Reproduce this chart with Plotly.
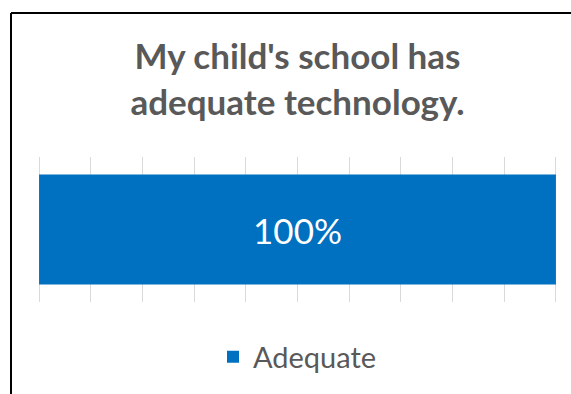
import plotly.graph_objects as go

# Survey response share for a single statement
categories = ["My child's school has adequate technology."]
series_name = "Adequate"
values = [1.0]
value_labels = ["100%"]

W, H = 571, 394
L, R, T, B = 37, 13, 157, 92
plot_w = W - L - R
plot_h = H - T - B
pad = 0.004  # small overhang so the end gridlines at 0 and 1 are drawn

fig = go.Figure()
fig.add_trace(go.Bar(
    y=categories,
    x=values,
    orientation="h",
    name=series_name,
    marker=dict(color="#0070C0", line=dict(width=0)),
    text=value_labels,
    textposition="inside",
    insidetextanchor="middle",
    textfont=dict(family="Lato", size=35, color="white"),
    showlegend=True,
    hoverinfo="skip",
))

# frame lines along the left and top edges of the chart area
def px_x(p):
    return (p - L) / plot_w

def px_y(p):
    return (H - B - p) / plot_h

shapes = [
    dict(type="line", xref="paper", yref="paper",
         x0=px_x(11), x1=px_x(11), y0=px_y(13), y1=px_y(H + 5),
         line=dict(color="black", width=2)),
    dict(type="line", xref="paper", yref="paper",
         x0=px_x(11), x1=px_x(W + 5), y0=px_y(13), y1=px_y(13),
         line=dict(color="black", width=2)),
]

fig.update_layout(
    width=W, height=H,
    margin=dict(l=L, r=R, t=T, b=B),
    paper_bgcolor="white",
    plot_bgcolor="white",
    bargap=0.24,
    title=dict(
        text="My child's school has<br>adequate technology.",
        x=297.5 / W, xanchor="center",
        y=1 - 69 / H, yanchor="middle",
        font=dict(family="Lato", size=35, color="#595959", weight="bold"),
    ),
    xaxis=dict(
        range=[-pad, 1 + pad], dtick=0.1, tick0=0,
        showgrid=True, gridcolor="#D9D9D9", gridwidth=1,
        showticklabels=False, zeroline=False, showline=False, ticks="",
    ),
    yaxis=dict(
        range=[-0.5, 0.5],
        showticklabels=False, showgrid=False, zeroline=False, showline=False,
    ),
    legend=dict(
        orientation="h", x=0.5, xanchor="center",
        y=px_y(357), yanchor="middle",
        font=dict(family="Lato", size=29, color="#595959"),
        itemwidth=30,
    ),
    shapes=shapes,
)

fig.write_html("out.html")
